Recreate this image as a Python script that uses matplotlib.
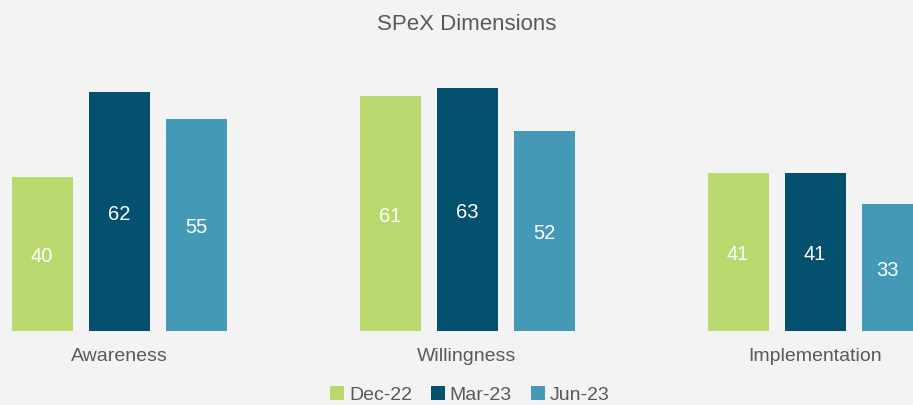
import matplotlib
matplotlib.use("Agg")
import matplotlib.pyplot as plt
import numpy as np

categories = ["Awareness", "Willingness", "Implementation"]
series_names = ["Dec-22", "Mar-23", "Jun-23"]
dec22 = [40, 61, 41]
mar23 = [62, 63, 41]
jun23 = [55, 52, 33]
colors = ["#B9D96E", "#03506F", "#4499B7"]

plt.rcParams["font.family"] = ["Liberation Sans", "DejaVu Sans"]
text_color = "#595959"
bg = "#F3F3F3"

fig = plt.figure(figsize=(9.13, 4.05), dpi=100, facecolor=bg)
# axes spans full width; plot region clipped on both sides like the original
ax = fig.add_axes([0, (405 - 331) / 405, 1, (331 - 60) / 405])
ax.set_facecolor(bg)

x = np.arange(len(categories))
width = 61 / 348
offset = 77 / 348
for i, (name, vals) in enumerate(zip(series_names, [dec22, mar23, jun23])):
    bars = ax.bar(x + (i - 1) * offset, vals, width, color=colors[i], label=name)
    ax.bar_label(bars, label_type="center", color="white", fontsize=14.5,
                 padding=-2)

ax.set_xlim((0 - 119) / 348, (913 - 119) / 348)
ax.set_ylim(0, (331 - 60) / 3.85)
ax.set_yticks([])
ax.set_xticks(x)
ax.set_xticklabels(categories, fontsize=14, color=text_color)
ax.tick_params(axis="x", length=0, pad=12)
for s in ax.spines.values():
    s.set_visible(False)

fig.text(467 / 913, 1 - 24 / 405, "SPeX Dimensions", ha="center", va="center",
         fontsize=16, color=text_color)

fig.legend(loc="center", bbox_to_anchor=(470 / 913, 1 - 395 / 405), ncol=3,
           frameon=False, fontsize=14, labelcolor=text_color,
           handlelength=0.7, handleheight=0.7, handletextpad=0.25,
           columnspacing=1.0, borderaxespad=0)

fig.savefig("out.png", dpi=100, facecolor=bg)
